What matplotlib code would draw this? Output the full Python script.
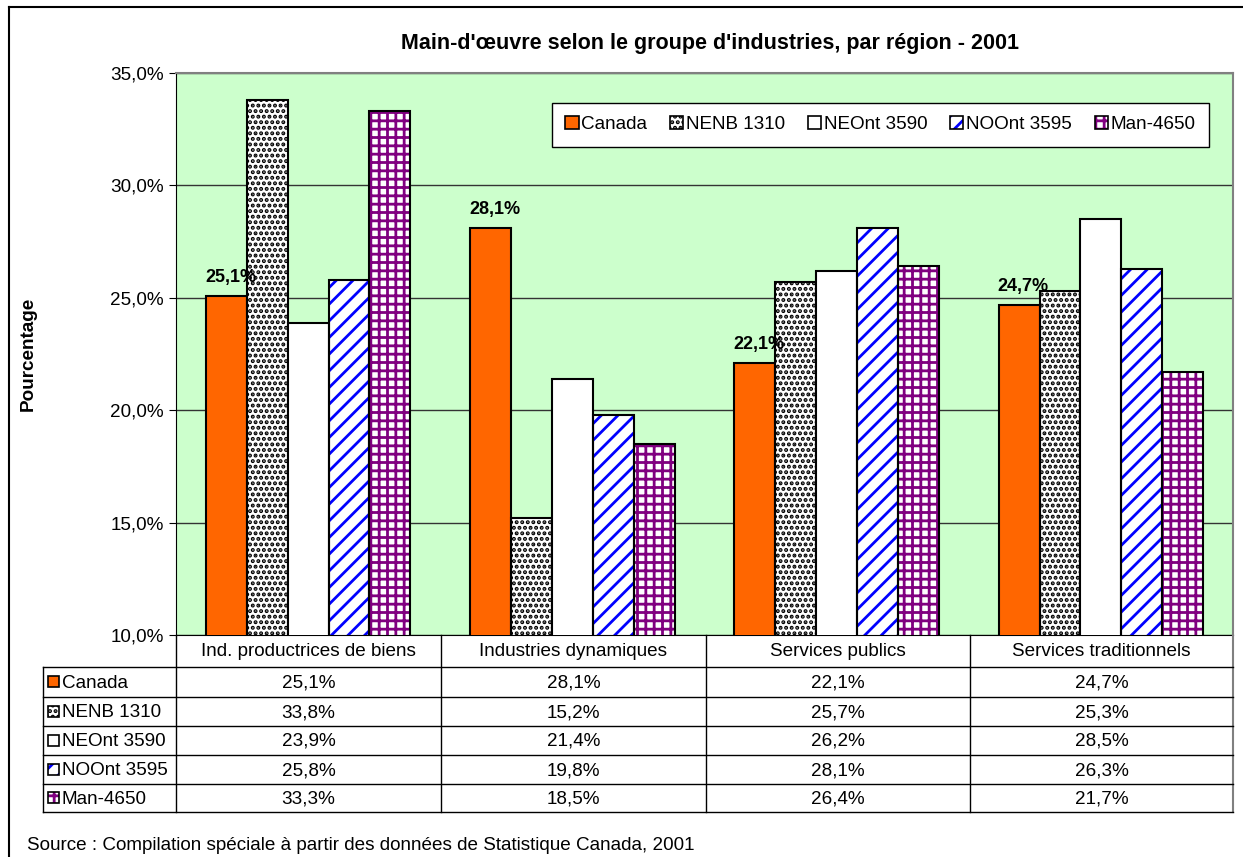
import matplotlib.pyplot as plt
import numpy as np
from matplotlib.patches import Patch, Rectangle
from matplotlib.legend_handler import HandlerTuple
from matplotlib.ticker import FuncFormatter

plt.rcParams['font.family'] = ['Liberation Sans', 'DejaVu Sans']
plt.rcParams['hatch.linewidth'] = 2.0

categories = ['Ind. productrices de biens', 'Industries dynamiques',
              'Services publics', 'Services traditionnels']
series = ['Canada', 'NENB 1310', 'NEOnt 3590', 'NOOnt 3595', 'Man-4650']
canada = [25.1, 28.1, 22.1, 24.7]
nenb = [33.8, 15.2, 25.7, 25.3]
neont = [23.9, 21.4, 26.2, 28.5]
noont = [25.8, 19.8, 28.1, 26.3]
man = [33.3, 18.5, 26.4, 21.7]
values = [canada, nenb, neont, noont, man]

# style per series: facecolor, hatch, hatch colour
styles = [('#FF6600', None, 'black'),
          ('white', '...', 'black'),
          ('white', None, 'black'),
          ('white', '//', '#0000FF'),
          ('white', '++', '#800080')]

FS = 13.6
W, H = 1243, 857
fig = plt.figure(figsize=(W / 100, H / 100), dpi=100)

def fx(px):
    return px / W

def fy(py):
    return 1 - py / H

left, right, top, bottom = 176, 1233, 73, 635
ax = fig.add_axes([fx(left), fy(bottom), fx(right - left), fy(top) - fy(bottom)])
ax.set_facecolor('#CCFFCC')

x = np.arange(len(categories))
bw = 41 / 265
for i, (vals, (fc, hatch, hc)) in enumerate(zip(values, styles)):
    pos = x + (i - 2) * bw
    if hatch:
        ax.bar(pos, vals, bw, bottom=0, color=fc, edgecolor=hc, linewidth=0,
               hatch=hatch, zorder=2)
        ax.bar(pos, vals, bw, fill=False, edgecolor='black', linewidth=1.5, zorder=3)
    else:
        ax.bar(pos, vals, bw, color=fc, edgecolor='black', linewidth=1.5, zorder=3)
    if i == 0:
        for p, v in zip(pos, vals):
            ax.annotate(f'{v:.1f}%'.replace('.', ','), (p, v), xytext=(3, 7),
                        textcoords='offset points', ha='center', va='bottom',
                        fontsize=13, fontweight='bold', zorder=5)

ax.set_xlim(-0.5, len(categories) - 0.5)
ax.set_ylim(10, 35)
ax.set_yticks(np.arange(10, 36, 5))
ax.yaxis.set_major_formatter(FuncFormatter(lambda v, p: f'{v:.1f}%'.replace('.', ',')))
ax.tick_params(axis='y', labelsize=FS, length=5, direction='out', pad=4)
ax.set_xticks([])
ax.grid(axis='y', color='#333333', linewidth=1.0, zorder=0)
ax.set_axisbelow(True)
for s in ['top', 'right']:
    ax.spines[s].set_color('#808080')
    ax.spines[s].set_linewidth(1.5)
ax.spines['left'].set_color('black')
ax.spines['bottom'].set_color('black')

def handle(i):
    fc, hatch, hc = styles[i]
    if hatch:
        return (Patch(facecolor=fc, edgecolor=hc, linewidth=0, hatch=hatch),
                Patch(fill=False, edgecolor='black', linewidth=1.2))
    return Patch(facecolor=fc, edgecolor='black', linewidth=1.2)

handles = [handle(i) for i in range(len(series))]
leg = fig.legend(handles, series, loc='upper right', ncol=5,
                 bbox_to_anchor=(fx(1209), fy(103)), fontsize=FS,
                 handler_map={tuple: HandlerTuple(ndivide=1)},
                 handlelength=0.7, handleheight=0.7, handletextpad=0.15,
                 columnspacing=1.2, borderpad=0.7, fancybox=False,
                 framealpha=1, edgecolor='black', borderaxespad=0)
leg.get_frame().set_linewidth(1.0)

# table + decorations in pixel coordinates
ov = fig.add_axes([0, 0, 1, 1], facecolor='none')
ov.set_xlim(0, W)
ov.set_ylim(H, 0)
ov.axis('off')

cols = [176, 441, 706, 970, 1233]
rows = [635, 667, 697, 726, 755, 784, 812]
lab_left = 43

for cx in cols[:-1]:
    ov.plot([cx, cx], [rows[0], rows[-1]], color='black', lw=1)
ov.plot([cols[-1], cols[-1]], [rows[0], rows[-1]], color='#808080', lw=1.5)
ov.plot([lab_left, lab_left], [rows[1], rows[-1]], color='black', lw=1)
for ry in rows[1:]:
    ov.plot([lab_left, cols[-1]], [ry, ry], color='black', lw=1)

for j, cat in enumerate(categories):
    ov.text((cols[j] + cols[j + 1]) / 2, (rows[0] + rows[1]) / 2 + 1, cat,
            ha='center', va='center', fontsize=FS)

for i, name in enumerate(series):
    cy = (rows[i + 1] + rows[i + 2]) / 2
    fc, hatch, hc = styles[i]
    if hatch:
        ov.add_patch(Rectangle((48, cy - 6), 11, 11, facecolor=fc, edgecolor=hc,
                               linewidth=0, hatch=hatch))
        ov.add_patch(Rectangle((48, cy - 6), 11, 11, fill=False, edgecolor='black', lw=1.2))
    else:
        ov.add_patch(Rectangle((48, cy - 6), 11, 11, facecolor=fc, edgecolor='black', lw=1.2))
    ov.text(62, cy + 1, name, ha='left', va='center', fontsize=FS)
    for j, v in enumerate(values[i]):
        ov.text((cols[j] + cols[j + 1]) / 2, cy + 1, f'{v:.1f}%'.replace('.', ','),
                ha='center', va='center', fontsize=FS)

ov.plot([9, 9], [7, H], color='black', lw=1.5)
ov.plot([9, W], [7, 7], color='black', lw=1.5)

fig.text(fx(710), fy(43), "Main-d'œuvre selon le groupe d'industries, par région - 2001",
         ha='center', va='center', fontsize=15.5, fontweight='bold')
fig.text(fx(28), fy(354), 'Pourcentage', rotation=90, ha='center', va='center',
         fontsize=FS, fontweight='bold')
fig.text(fx(27), fy(845), 'Source : Compilation spéciale à partir des données de Statistique Canada, 2001',
         ha='left', va='center', fontsize=FS)

fig.savefig('out.png', dpi=100)
